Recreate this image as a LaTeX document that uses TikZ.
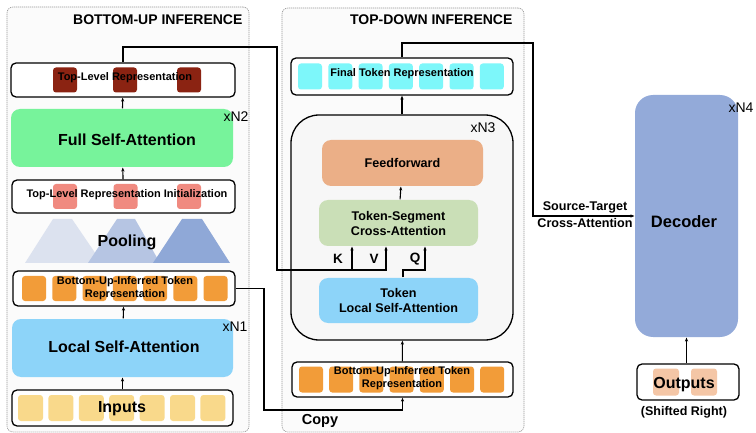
\documentclass[tikz,border=0pt]{standalone}
\usepackage{fontspec}
\setmainfont{Liberation Sans}
\usepackage{xcolor}
\usetikzlibrary{arrows.meta}

\definecolor{toprepred}{HTML}{8B2312}
\definecolor{initred}{HTML}{F08A80}
\definecolor{fullgreen}{HTML}{77F39B}
\definecolor{localblue}{HTML}{8DD4F9}
\definecolor{buorange}{HTML}{F29C39}
\definecolor{inyellow}{HTML}{F9D98B}
\definecolor{fincyan}{HTML}{7DF7FA}
\definecolor{ffpeach}{HTML}{EBAF87}
\definecolor{tsgreen}{HTML}{CADFB7}
\definecolor{decblue}{HTML}{93AAD9}
\definecolor{outpeach}{HTML}{F4C6A6}
\definecolor{poolA}{HTML}{DCE2EF}
\definecolor{poolB}{HTML}{B6C5E3}
\definecolor{poolC}{HTML}{8FA8D7}

\tikzset{
  frame/.style={draw=gray!80, fill=gray!3, dash pattern=on 1.2pt off 0.8pt, line width=0.6pt, rounded corners=6pt},
  bar/.style={draw=black, line width=1.3pt, fill=white, rounded corners=5pt, inner sep=0pt},
  blk/.style={rounded corners=9pt, inner sep=0pt, align=center},
  sq/.style={rounded corners=3pt, inner sep=0pt, minimum width=24pt, minimum height=25pt},
  big/.style={font=\bfseries\fontsize{16}{18}\selectfont, align=center, inner sep=0pt},
  mid/.style={font=\bfseries\fontsize{12.6}{15}\selectfont, align=center, inner sep=0pt},
  small/.style={font=\bfseries\fontsize{11}{13}\selectfont, align=center, inner sep=0pt},
  rep/.style={font=\fontsize{14}{16}\selectfont, inner sep=0pt},
  title/.style={font=\bfseries\fontsize{14}{16}\selectfont, inner sep=0pt}
}

\begin{document}
\begin{tikzpicture}[
            x = 1pt, y = -1pt, % pixel grid, y downwards
            > = {Stealth[length=4pt,width=3.2pt]}, % arrow head style
            line width = 1.1pt
        ]
\useasboundingbox (0,0) rectangle (756,433);

% frames
\node[frame, minimum width=242pt, minimum height=425pt] (bottomup) at (128,219.5) {};
\node[frame, minimum width=242pt, minimum height=424pt] (topdown) at (403,220) {};
\node[title, anchor=east] (butitle) at (243,20) {BOTTOM-UP INFERENCE};
\node[title, anchor=east] (tdtitle) at (513,20) {TOP-DOWN INFERENCE};

% bottom-up column
\node[bar, minimum width=224pt, minimum height=34pt] (toprep) at (123,80) {};
\foreach \x in {65,125,189}
  \node[sq, fill=toprepred] (trsq\x) at (\x,80) {};
\node[small] (toprepl) at (125,78) {Top-Level Representation};

\node[blk, fill=fullgreen, minimum width=222pt, minimum height=58pt] (fsa) at (122,138) {};
\node[big] (fsal) at (127,140) {Full Self-Attention};
\node[rep] (n2) at (236,117) {xN2};

\node[bar, minimum width=223pt, minimum height=33pt] (init) at (123.5,196.5) {};
\foreach \x in {65,125.5,189}
  \node[sq, fill=initred] (insq\x) at (\x,196.5) {};
\node[small] (initl) at (127,195) {Top-Level Representation Initialization};

\fill[poolA] (25,263) -- (53,219) -- (72,219) -- (102,263) -- cycle;
\fill[poolB] (88,263) -- (117,219) -- (135,219) -- (160,263) -- cycle;
\fill[poolC] (153,263) -- (182,219) -- (202,219) -- (230,263) -- cycle;
\node[big] (pool) at (127,242) {Pooling};

\node[bar, minimum width=222pt, minimum height=35pt] (bu) at (124,288.5) {};
\foreach \i in {0,...,6}
  \node[sq, fill=buorange] (busq\i) at (34+30.25*\i,288.5) {};
\node[small] (bul) at (125,288) {Bottom-Up-Inferred Token\\Representation};

\node[blk, fill=localblue, minimum width=221pt, minimum height=58pt] (lsa) at (122.5,348) {};
\node[big] (lsal) at (124,347) {Local Self-Attention};
\node[rep] (n1) at (235,327) {xN1};

\node[bar, minimum width=221pt, minimum height=36pt] (inputs) at (122.5,408) {};
\foreach \i in {0,...,6}
  \node[sq, fill=inyellow, minimum width=25pt, minimum height=26pt] (ipsq\i) at (30.5+30.4*\i,408) {};
\node[big] (inputsl) at (122,409) {Inputs};

% top-down column
\node[bar, minimum width=222pt, minimum height=37pt] (final) at (402,76.5) {};
\foreach \i in {0,...,6}
  \node[sq, fill=fincyan, minimum height=26pt] (fisq\i) at (310+30.3*\i,76.5) {};
\node[small] (finall) at (402,74) {Final Token Representation};

\node[draw=black, line width=1.3pt, fill=gray!6, rounded corners=28pt,
      minimum width=222pt, minimum height=225pt] (n3block) at (402,227.5) {};
\node[rep] (n3) at (483,128) {xN3};

\node[blk, fill=ffpeach, minimum width=161pt, minimum height=46pt, mid] (ff) at (402.5,163) {Feedforward};
\node[blk, fill=tsgreen, minimum width=159pt, minimum height=46pt, mid] (ts) at (398.5,223) {Token-Segment\\Cross-Attention};
\node[blk, fill=localblue, minimum width=159pt, minimum height=45pt, mid] (tlsa) at (398.5,300.5) {Token\\Local Self-Attention};

\node[mid, font=\bfseries\fontsize{13.5}{15}\selectfont] (k) at (338,259) {K};
\node[mid, font=\bfseries\fontsize{13.5}{15}\selectfont] (v) at (374,259) {V};
\node[mid, font=\bfseries\fontsize{13.5}{15}\selectfont] (q) at (415,259) {Q};

\node[bar, minimum width=221pt, minimum height=35pt] (bu2) at (402.5,379.5) {};
\foreach \i in {0,...,6}
  \node[sq, fill=buorange, minimum height=26pt] (bu2sq\i) at (311+30.2*\i,379.5) {};
\node[small] (bu2l) at (402,378.5) {Bottom-Up-Inferred Token\\Representation};
\node[mid, font=\bfseries\fontsize{14.5}{16}\selectfont] (copy) at (320,421) {Copy};

% decoder
\node[fill=decblue, rounded corners=18pt, minimum width=103pt, minimum height=242pt] (dec) at (686.5,216) {};
\node[big, font=\bfseries\fontsize{16.5}{18}\selectfont] (decl) at (684,222) {Decoder};
\node[rep] (n4) at (741,108) {xN4};

\node[bar, minimum width=102pt, minimum height=36pt] (outputs) at (688,382) {};
\foreach \x in {666,704}
  \node[sq, fill=outpeach, minimum width=26pt, minimum height=27pt] (otsq\x) at (\x,382) {};
\node[big] (outputsl) at (684,385) {Outputs};
\node[small, font=\bfseries\fontsize{12.5}{14}\selectfont] (shifted) at (684,412) {(Shifted Right)};
\node[mid, font=\bfseries\fontsize{12.6}{17}\selectfont] (stl) at (585,214.5) {Source-Target\\Cross-Attention};

% turning points
\coordinate (kvturn) at (277,47);
\coordinate (kvdown) at (277,270);
\coordinate (kfoot) at (352,270);
\coordinate (vfoot) at (386,270);
\coordinate (qturn) at (403,270);
\coordinate (qfoot) at (425,270);
\coordinate (cpy) at (264,410);
\coordinate (stturn) at (533,43);

 \path [->] (init) edge (fsa);
 \path [->] (fsa) edge (toprep);
 \path [->] (inputs) edge (lsa);
 \path [->] (lsa) edge (bu);
 \path [->] (ts) edge (ff);
 \path [->] (n3block) edge (final);
 \path [->] (bu2) edge (n3block);
 \path [->] (outputs.north -| dec) edge (dec);

 \draw [->] (toprep.north) |- (kvturn) -- (kvdown) -- (kfoot) -- (kfoot |- ts.south);
 \draw [->] (kfoot) -- (vfoot) -- (vfoot |- ts.south);
 \draw [->] (qturn |- tlsa.north) -- (qturn) -- (qfoot) -- (qfoot |- ts.south);
 \draw [->] (bu.east) -| (cpy) -| (bu2.south);
 \draw [->] (final.north) |- (stturn) |- (dec.west);
\end{tikzpicture}
\end{document}
